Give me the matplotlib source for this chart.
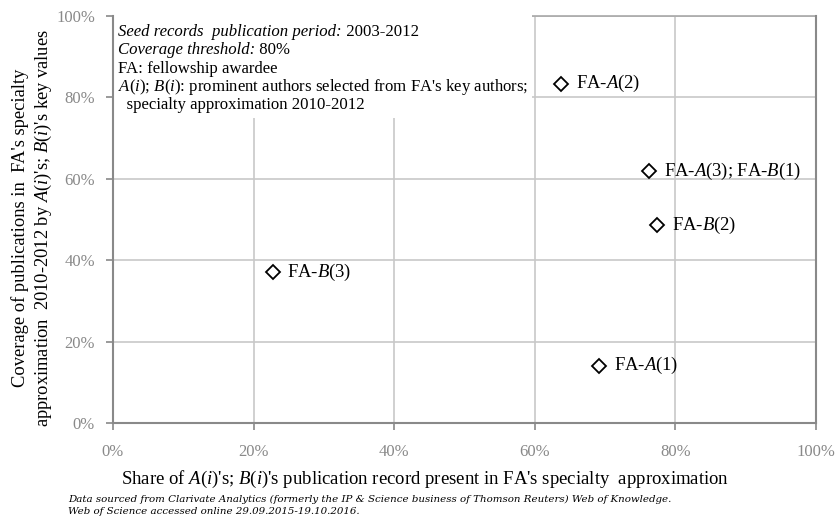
import matplotlib

matplotlib.use("Agg")
import matplotlib.pyplot as plt
from matplotlib import rc
from matplotlib.patches import Rectangle
from matplotlib.ticker import FuncFormatter

rc("font", family="Liberation Serif", size=11.5)
rc("mathtext", fontset="custom", rm="Liberation Serif", it="Liberation Serif:italic")

# share of A(i)'s / B(i)'s record present in FA's specialty approximation (%)
share = [63.8, 76.3, 77.4, 69.2, 22.7]
# coverage of FA's specialty publications 2010-2012 (%)
coverage = [83.4, 61.9, 48.6, 14.1, 37.1]
labels = [
    "FA-$A$(2)",
    "FA-$A$(3); FA-$B$(1)",
    "FA-$B$(2)",
    "FA-$A$(1)",
    "FA-$B$(3)",
]

xticks = [0, 20, 40, 60, 80, 100]
yticks = [0, 20, 40, 60, 80, 100]

GRAY = "#898989"


def percent(x, pos):
    return "{:d}%".format(int(round(x)))


def fit(fig, t, target, vertical=False):
    # scale font so the rendered text spans `target` pixels
    r = fig.canvas.get_renderer()
    bb = t.get_window_extent(r)
    size = bb.height if vertical else bb.width
    t.set_fontsize(t.get_fontsize() * target / size)
    return t.get_fontsize()


def draw():
    fig = plt.figure(figsize=(8.4, 5.18), dpi=100)
    ax = fig.add_axes([0.1345, 0.1834, 0.8369, 0.7856])

    ax.set_xlim(0, 100)
    ax.set_ylim(0, 100)
    ax.set_xticks(xticks)
    ax.set_yticks(yticks)
    ax.xaxis.set_major_formatter(FuncFormatter(percent))
    ax.yaxis.set_major_formatter(FuncFormatter(percent))
    ax.tick_params(colors=GRAY, labelcolor=GRAY, length=5, width=1.2,
                   direction="out", labelsize=12)
    ax.tick_params(axis="x", pad=10)
    ax.tick_params(axis="y", pad=8)

    ax.grid(color="#c8c8c8", linewidth=1.2)
    ax.set_axisbelow(True)
    for side in ["left", "bottom", "right"]:
        ax.spines[side].set_color(GRAY)
        ax.spines[side].set_linewidth(1.5)
        ax.spines[side].set_zorder(2.5)
    ax.spines["top"].set_color("#a8a8a8")
    ax.spines["top"].set_linewidth(1.2)
    ax.spines["top"].set_zorder(2.0)

    # white panel behind the notes (hides grid and top border there)
    ax.add_patch(Rectangle((0, 0.749), 0.596, 0.27, transform=ax.transAxes,
                           facecolor="white", edgecolor="none", zorder=2.2,
                           clip_on=False))

    ax.plot(share, coverage, linestyle="none", marker="D", markersize=7,
            markerfacecolor="white", markeredgecolor="black",
            markeredgewidth=1.3, zorder=5)
    pts = []
    for x, y, lab in zip(share, coverage, labels):
        t = ax.annotate(lab, (x, y), xytext=(10.5, 0), textcoords="offset points",
                        va="center", ha="left", fontsize=12.5, color="black",
                        zorder=6)
        pts.append(t)

    # notes, one line at a time
    x0 = 0.007
    y0 = 0.9607
    step = 0.045
    t1 = ax.text(x0, y0, "Seed records  publication period:", style="italic",
                 transform=ax.transAxes, va="center", ha="left", fontsize=12,
                 zorder=6)
    t1b = ax.annotate(" 2003-2012", xy=(1, 0.5), xycoords=t1, va="center",
                      ha="left", fontsize=12, zorder=6)
    t2 = ax.text(x0, y0 - step, "Coverage threshold:", style="italic",
                 transform=ax.transAxes, va="center", ha="left", fontsize=12,
                 zorder=6)
    t2b = ax.annotate(" 80%", xy=(1, 0.5), xycoords=t2, va="center",
                      ha="left", fontsize=12, zorder=6)
    t3 = ax.text(x0, y0 - 2 * step, "FA: fellowship awardee",
                 transform=ax.transAxes, va="center", ha="left", fontsize=12,
                 zorder=6)
    t4 = ax.text(x0, y0 - 3 * step,
                 "$A$($i$); $B$($i$): prominent authors selected from FA's key authors;",
                 transform=ax.transAxes, va="center", ha="left", fontsize=12,
                 zorder=6)
    t5 = ax.text(x0, y0 - 4 * step, "  specialty approximation 2010-2012",
                 transform=ax.transAxes, va="center", ha="left", fontsize=12,
                 zorder=6)

    xl = ax.set_xlabel("Share of $A$($i$)'s; $B$($i$)'s publication record present "
                       "in FA's specialty  approximation", fontsize=13.5,
                       va="center")
    ax.xaxis.set_label_coords(0.4438, -0.1376)
    yl = ax.set_ylabel("Coverage of publications in  FA's specialty\n"
                       "approximation  2010-2012 by $A$($i$)'s; $B$($i$)'s key values",
                       fontsize=13.5, va="center", linespacing=1.25)
    ax.yaxis.set_label_coords(-0.114, 0.479)

    f1 = fig.text(68 / 840, 1 - 499 / 518,
                  "Data sourced from Clarivate Analytics (formerly the IP & Science "
                  "business of Thomson Reuters) Web of Knowledge.",
                  fontsize=7.3, style="italic", family="DejaVu Serif",
                  ha="left", va="center")
    f2 = fig.text(68 / 840, 1 - 511 / 518,
                  "Web of Science accessed online 29.09.2015-19.10.2016.",
                  fontsize=7.3, style="italic", family="DejaVu Serif",
                  ha="left", va="center")

    # size texts to the widths
    fig.canvas.draw()
    s = fit(fig, t4, 409)
    for t in [t1, t1b, t2, t2b, t3, t5]:
        t.set_fontsize(s)
    s = fit(fig, pts[1], 138)
    for t in pts:
        t.set_fontsize(s)
    fit(fig, xl, 608)
    fit(fig, yl, 398, vertical=True)
    s = fit(fig, f1, 609)
    f2.set_fontsize(s)

    plt.savefig("out.png", dpi=100)


draw()
